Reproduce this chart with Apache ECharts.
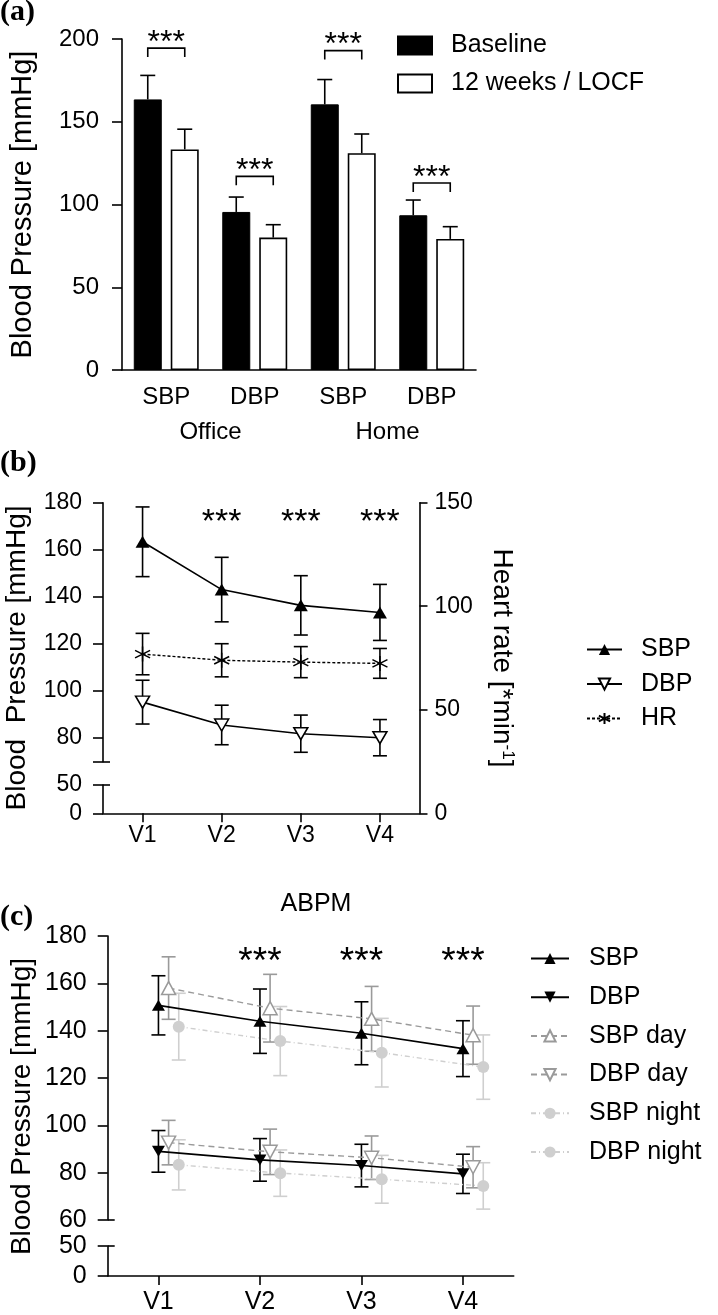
<!DOCTYPE html>
<html><head><meta charset="utf-8">
<script src="https://cdn.jsdelivr.net/npm/echarts@6/dist/echarts.min.js"></script>
<style>html,body{margin:0;padding:0;background:#fff}#c{width:718px;height:1315px}</style>
</head><body><div id="c"></div>
<script>
// ---------- Panel (a) data ----------
const barCategories = ['SBP', 'DBP', 'SBP', 'DBP'];
const barGroups = ['Office', 'Home'];
const baselineMean = [163.5, 95.5, 160.5, 93.5];
const baselineErr = [14.5, 9.0, 15.0, 9.2];
const week12Mean = [133.3, 80.0, 131.0, 79.2];
const week12Err = [12.2, 7.8, 11.6, 7.4];
const bracketLevel = [194.5, 117, 193, 113];
const sigA = ['***', '***', '***', '***'];
const yTicksA = [0, 50, 100, 150, 200];

// ---------- Panel (b) data ----------
const visits = ['V1', 'V2', 'V3', 'V4'];
const sbpB = [163.4, 143.1, 136.4, 133.4];
const sbpBErr = [14.8, 13.7, 12.6, 11.9];
const dbpB = [95.3, 85.6, 81.9, 80.2];
const dbpBErr = [9.3, 8.4, 7.9, 7.7];
const hrB = [76.9, 73.9, 73.0, 72.4];
const hrBErr = [10.0, 8.0, 7.5, 7.2];
const sigB = ['', '***', '***', '***'];
const yTicksBUpper = [80, 100, 120, 140, 160, 180];
const yTicksBLower = [0, 50];
const yTicksHR = [0, 50, 100, 150];

// ---------- Panel (c) data ----------
const sbpC = [150.7, 144.0, 138.9, 132.4];
const sbpCErr = [12.5, 13.6, 13.3, 11.8];
const dbpC = [89.0, 85.4, 83.0, 79.5];
const dbpCErr = [8.8, 9.0, 9.0, 8.3];
const sbpDay = [158.0, 149.5, 145.0, 138.1];
const sbpDayErr = [13.2, 14.3, 13.7, 12.3];
const dbpDay = [92.7, 88.8, 86.3, 82.3];
const dbpDayErr = [9.4, 9.6, 9.2, 8.7];
const sbpNight = [141.7, 135.6, 130.7, 124.6];
const sbpNightErr = [14.1, 14.6, 14.5, 13.6];
const dbpNight = [83.3, 79.8, 77.2, 74.4];
const dbpNightErr = [10.6, 9.8, 10.1, 9.8];
const sigC = ['', '***', '***', '***'];
const yTicksCUpper = [60, 80, 100, 120, 140, 160, 180];
const yTicksCLower = [0, 50];

// ---------- layout / style constants ----------
const FONT = '"Liberation Sans", Arial, Helvetica, sans-serif';
const SERIF = '"Liberation Serif", "Times New Roman", serif';
const AX = { color: '#000', width: 1.6 };
const DAY = '#9a9a9a', NIGHT = '#cfcfcf';
const DAY_SHIFT = 0.1, NIGHT_SHIFT = 0.2;
const BAR_HALF = 18.5;
const visitPos = visits.map((v, i) => i + 1);

function errBars(xIdx, yIdx, means, errs, shift, color, capHalf) {
  return {
    type: 'custom', xAxisIndex: xIdx, yAxisIndex: yIdx, silent: true,
    data: means.map((m, i) => [i + 1 + shift, m, errs[i]]),
    renderItem(params, api) {
      const x = api.value(0), m = api.value(1), e = api.value(2);
      const t = api.coord([x, m + e]), b = api.coord([x, m - e]);
      const st = { stroke: color, lineWidth: 1.6 };
      return { type: 'group', children: [
        { type: 'line', shape: { x1: t[0], y1: t[1], x2: b[0], y2: b[1] }, style: st },
        { type: 'line', shape: { x1: t[0] - capHalf, y1: t[1], x2: t[0] + capHalf, y2: t[1] }, style: st },
        { type: 'line', shape: { x1: b[0] - capHalf, y1: b[1], x2: b[0] + capHalf, y2: b[1] }, style: st }
      ]};
    }
  };
}
function barErr(vals, errs, side) {
  return {
    type: 'custom', xAxisIndex: 0, yAxisIndex: 0, silent: true, z: 3,
    data: vals.map((m, i) => [i, m, errs[i]]),
    renderItem(params, api) {
      const i = api.value(0), m = api.value(1), e = api.value(2);
      const b = api.coord([i, m]), t = api.coord([i, m + e]);
      const x = b[0] + side * BAR_HALF;
      const st = { stroke: '#000', lineWidth: 1.6 };
      return { type: 'group', children: [
        { type: 'line', shape: { x1: x, y1: b[1], x2: x, y2: t[1] }, style: st },
        { type: 'line', shape: { x1: x - 7.5, y1: t[1], x2: x + 7.5, y2: t[1] }, style: st }
      ]};
    }
  };
}
function stars(xIdx, yIdx, sig, level, size) {
  return {
    type: 'custom', xAxisIndex: xIdx, yAxisIndex: yIdx, silent: true,
    data: sig.map((s, i) => [i + 1, level]),
    renderItem(params, api) {
      if (!sig[params.dataIndex]) return null;
      const p = api.coord([api.value(0), api.value(1)]);
      return { type: 'text', x: p[0], y: p[1], style: { text: sig[params.dataIndex], align: 'center', verticalAlign: 'middle', fontSize: size, fontFamily: FONT, fill: '#000' } };
    }
  };
}
function lineS(name, xIdx, yIdx, means, shift, opt) {
  return Object.assign({
    name, type: 'line', xAxisIndex: xIdx, yAxisIndex: yIdx,
    data: means.map((m, i) => [i + 1 + shift, m])
  }, opt);
}
const hiddenX = (g) => ({ type: 'value', gridIndex: g, min: 0.5, max: 4.5, show: false });
const visX = (g, margin, fs) => ({
  type: 'value', gridIndex: g, min: 0.5, max: 4.5,
  axisLine: { lineStyle: AX }, splitLine: { show: false },
  axisTick: { customValues: visitPos, length: 9, lineStyle: AX },
  axisLabel: { customValues: visitPos, formatter: v => visits[Math.round(v) - 1], margin, fontSize: fs, fontFamily: FONT, color: '#000' }
});
function yAx(g, min, max, ticks, labels, fs, margin, extra) {
  return Object.assign({
    type: 'value', gridIndex: g, min, max,
    axisLine: { show: true, lineStyle: AX }, splitLine: { show: false },
    axisTick: { show: true, customValues: ticks, length: 10, lineStyle: AX },
    axisLabel: { customValues: labels, fontSize: fs, margin, fontFamily: FONT, color: '#000' }
  }, extra || {});
}
const capAx = (g, min, max, val) => ({
  type: 'value', gridIndex: g, min, max, position: 'left',
  axisLine: { show: false }, splitLine: { show: false }, axisLabel: { show: false },
  axisTick: { show: true, inside: true, customValues: [val], length: 7, lineStyle: AX }
});
const titleAx = (g, name, gap, fs) => ({
  type: 'value', gridIndex: g, min: 0, max: 1, position: 'left',
  axisLine: { show: false }, axisTick: { show: false }, axisLabel: { show: false }, splitLine: { show: false },
  name, nameLocation: 'middle', nameGap: gap, nameTextStyle: { fontSize: fs, fontFamily: FONT, color: '#000' }
});
const legendText = (pad) => ({ fontSize: 25, lineHeight: 27, fontFamily: FONT, color: '#000', padding: [0, 0, 0, pad] });

const option = {
  animation: false,
  backgroundColor: '#fff',
  title: [
    { text: '(a)', left: 0, top: -3, padding: 0, textStyle: { fontFamily: SERIF, fontWeight: 'bold', fontSize: 30, color: '#000' } },
    { text: '(b)', left: 0, top: 448, padding: 0, textStyle: { fontFamily: SERIF, fontWeight: 'bold', fontSize: 30, color: '#000' } },
    { text: '(c)', left: 0, top: 902, padding: 0, textStyle: { fontFamily: SERIF, fontWeight: 'bold', fontSize: 30, color: '#000' } },
    { text: 'ABPM', left: 316, textAlign: 'center', top: 892, padding: 0, textStyle: { fontFamily: FONT, fontWeight: 'normal', fontSize: 25, color: '#000' } }
  ],
  legend: [
    { data: [{ name: 'Baseline', icon: 'rect' }, { name: '12 weeks / LOCF', icon: 'rect' }], orient: 'vertical', left: 397, top: 32, padding: 0,
      itemWidth: 34, itemHeight: 18, itemGap: 11, textStyle: legendText(14) },
    { data: ['SBP', 'DBP', 'HR'], orient: 'vertical', left: 586, top: 636, padding: 0, itemWidth: 35, itemHeight: 14, itemGap: 7.5,
      textStyle: legendText(14) },
    { data: ['SBP ', 'DBP ', 'SBP day', 'DBP day', 'SBP night', 'DBP night'], orient: 'vertical', left: 530, top: 945, padding: 0,
      itemWidth: 38, itemHeight: 14, itemGap: 11.7, formatter: n => n.trim(), textStyle: legendText(15) }
  ],
  grid: [
    { left: 107, top: 39, width: 369, height: 331 },            // 0 a
    { left: 103, top: 502.7, width: 316.5, height: 259 },       // 1 b upper
    { left: 103, top: 785, width: 316.5, height: 28.3 },        // 2 b lower
    { left: 103, top: 502.7, width: 316.5, height: 310.6 },     // 3 b full
    { left: 107.7, top: 936, width: 406, height: 284 },         // 4 c upper
    { left: 107.7, top: 1246, width: 406, height: 31 },         // 5 c lower
    { left: 107.7, top: 936, width: 406, height: 341 }          // 6 c full
  ],
  xAxis: [
    { type: 'category', gridIndex: 0, data: barCategories, axisLine: { lineStyle: AX },
      axisTick: { alignWithLabel: true, length: 9, lineStyle: AX },
      axisLabel: { fontSize: 24, margin: 15, fontFamily: FONT, color: '#000' } },
    { type: 'category', gridIndex: 0, data: barGroups, position: 'bottom', axisLine: { show: false }, axisTick: { show: false },
      axisLabel: { fontSize: 24, margin: 50, fontFamily: FONT, color: '#000' } },
    hiddenX(1), visX(2, 11, 23), hiddenX(3),
    hiddenX(4), visX(5, 14, 25), hiddenX(6)
  ],
  yAxis: [
    yAx(0, 0, 200, yTicksA, yTicksA, 24, 23, { name: 'Blood Pressure [mmHg]', nameLocation: 'middle', nameGap: 85, nameTextStyle: { fontSize: 29, fontFamily: FONT, color: '#000' } }), // 0
    yAx(1, 70, 180, [70].concat(yTicksBUpper), yTicksBUpper, 23, 21),  // 1
    capAx(1, 70, 180, 70),                                              // 2
    yAx(2, 0, 50, yTicksBLower, yTicksBLower, 23, 21),                  // 3
    capAx(2, 0, 50, 50),                                                // 4
    yAx(3, 0, 150, yTicksHR, yTicksHR, 23, 15, { position: 'right', axisTick: { show: true, length: 8, customValues: yTicksHR, lineStyle: AX },
      name: 'Heart rate [*min{sup|-1}]', nameLocation: 'middle', nameGap: 68, nameRotate: -90,
      nameTextStyle: { fontSize: 28, fontFamily: FONT, color: '#000', rich: { sup: { fontSize: 17, fontFamily: FONT, color: '#000', verticalAlign: 'top', padding: [0, 0, 12, 0] } } } }), // 5
    titleAx(3, 'Blood  Pressure [mmHg]', 72, 28),                       // 6
    yAx(4, 60, 180, yTicksCUpper, yTicksCUpper, 25, 21),               // 7
    capAx(4, 60, 180, 60),                                              // 8
    yAx(5, 0, 50, yTicksCLower, yTicksCLower, 25, 21),                  // 9
    capAx(5, 0, 50, 50),                                                // 10
    titleAx(6, 'Blood Pressure [mmHg]', 77, 28)                         // 11
  ],
  series: [
    // ---- (a)
    { name: 'Baseline', type: 'bar', xAxisIndex: 0, yAxisIndex: 0, data: baselineMean, barWidth: 28, barGap: '32%',
      itemStyle: { color: '#000', borderColor: '#000', borderWidth: 1 } },
    { name: '12 weeks / LOCF', type: 'bar', xAxisIndex: 0, yAxisIndex: 0, data: week12Mean, barWidth: 28, barGap: '32%',
      itemStyle: { color: '#fff', borderColor: '#000', borderWidth: 1.6 } },
    barErr(baselineMean, baselineErr, -1),
    barErr(week12Mean, week12Err, 1),
    { type: 'custom', xAxisIndex: 0, yAxisIndex: 0, silent: true,
      data: bracketLevel.map((l, i) => [i, l]),
      renderItem(params, api) {
        const p = api.coord([api.value(0), api.value(1)]);
        const st = { stroke: '#000', lineWidth: 1.6, fill: null };
        return { type: 'group', children: [
          { type: 'polyline', shape: { points: [[p[0] - BAR_HALF, p[1] + 9], [p[0] - BAR_HALF, p[1]], [p[0] + BAR_HALF, p[1]], [p[0] + BAR_HALF, p[1] + 9]] }, style: st },
          { type: 'text', x: p[0], y: p[1] - 5, style: { text: sigA[params.dataIndex], align: 'center', verticalAlign: 'middle', fontSize: 32, fontFamily: FONT, fill: '#000' } }
        ]};
      } },
    // ---- (b)
    errBars(4, 5, hrB, hrBErr, 0, '#000', 7),
    errBars(2, 1, sbpB, sbpBErr, 0, '#000', 7),
    errBars(2, 1, dbpB, dbpBErr, 0, '#000', 7),
    lineS('HR', 4, 5, hrB, 0, { symbol: 'path://M0,-6L0,6M-5.2,-3L5.2,3M-5.2,3L5.2,-3', symbolSize: 15,
      lineStyle: { color: '#000', width: 1.4, type: [3, 2] }, itemStyle: { color: 'none', borderColor: '#000', borderWidth: 1.5 } }),
    lineS('SBP', 2, 1, sbpB, 0, { symbol: 'triangle', symbolSize: [14, 12],
      lineStyle: { color: '#000', width: 1.6 }, itemStyle: { color: '#000' } }),
    lineS('DBP', 2, 1, dbpB, 0, { symbol: 'triangle', symbolRotate: 180, symbolSize: [14, 12],
      lineStyle: { color: '#000', width: 1.6 }, itemStyle: { color: '#fff', borderColor: '#000', borderWidth: 1.5 } }),
    stars(2, 1, sigB, 171.5, 34),
    // ---- (c)
    errBars(5, 7, sbpNight, sbpNightErr, NIGHT_SHIFT, NIGHT, 7),
    errBars(5, 7, dbpNight, dbpNightErr, NIGHT_SHIFT, NIGHT, 7),
    lineS('SBP night', 5, 7, sbpNight, NIGHT_SHIFT, { symbol: 'circle', symbolSize: 12,
      lineStyle: { color: NIGHT, width: 1.4, type: [5, 3, 1, 3] }, itemStyle: { color: NIGHT } }),
    lineS('DBP night', 5, 7, dbpNight, NIGHT_SHIFT, { symbol: 'circle', symbolSize: 12,
      lineStyle: { color: NIGHT, width: 1.4, type: [5, 3, 1, 3] }, itemStyle: { color: NIGHT } }),
    errBars(5, 7, sbpDay, sbpDayErr, DAY_SHIFT, DAY, 7),
    errBars(5, 7, dbpDay, dbpDayErr, DAY_SHIFT, DAY, 7),
    lineS('SBP day', 5, 7, sbpDay, DAY_SHIFT, { symbol: 'triangle', symbolSize: [14, 13],
      lineStyle: { color: DAY, width: 1.4, type: [6, 4] }, itemStyle: { color: '#fff', borderColor: DAY, borderWidth: 1.5 } }),
    lineS('DBP day', 5, 7, dbpDay, DAY_SHIFT, { symbol: 'triangle', symbolRotate: 180, symbolSize: [14, 13],
      lineStyle: { color: DAY, width: 1.4, type: [6, 4] }, itemStyle: { color: '#fff', borderColor: DAY, borderWidth: 1.5 } }),
    errBars(5, 7, sbpC, sbpCErr, 0, '#000', 7),
    errBars(5, 7, dbpC, dbpCErr, 0, '#000', 7),
    lineS('SBP ', 5, 7, sbpC, 0, { symbol: 'triangle', symbolSize: [13, 11],
      lineStyle: { color: '#000', width: 1.6 }, itemStyle: { color: '#000' } }),
    lineS('DBP ', 5, 7, dbpC, 0, { symbol: 'triangle', symbolRotate: 180, symbolSize: [13, 11],
      lineStyle: { color: '#000', width: 1.6 }, itemStyle: { color: '#000' } }),
    stars(5, 7, sigC, 168.6, 37)
  ]
};
const chart = echarts.init(document.getElementById('c'), null, { renderer: 'canvas' });
chart.setOption(option);
</script></body></html>
